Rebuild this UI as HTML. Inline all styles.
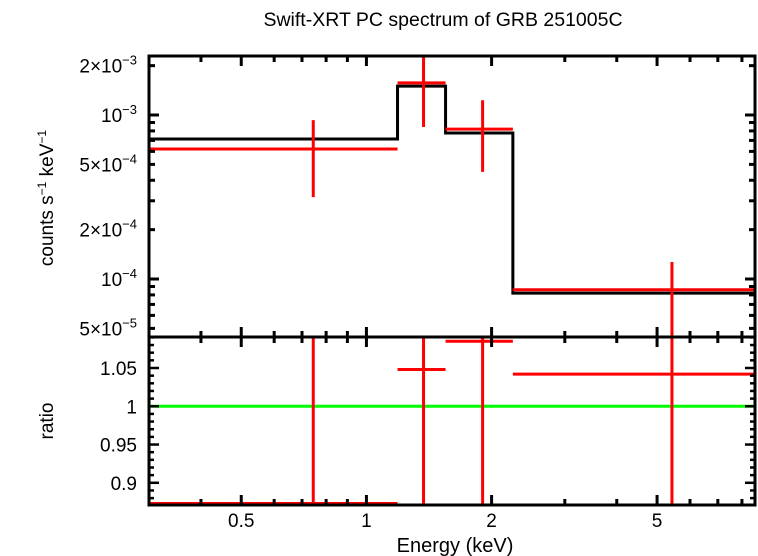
<!DOCTYPE html>
<html><head><meta charset="utf-8"><style>
html,body{margin:0;padding:0;background:#fff;}
svg{display:block;font-family:"Liberation Sans",sans-serif;}
</style></head><body>
<svg id="chart" width="758" height="556" viewBox="0 0 758 556" xmlns="http://www.w3.org/2000/svg">
<text x="443" y="26" font-size="19.5" text-anchor="middle">Swift-XRT PC spectrum of GRB 251005C</text>
<text transform="translate(53,198) rotate(-90)" font-size="19" text-anchor="middle">counts s<tspan dy="-7" font-size="12">−1</tspan><tspan dy="7"> keV</tspan><tspan dy="-7" font-size="12">−1</tspan></text>
<text transform="translate(53,421) rotate(-90)" font-size="19" text-anchor="middle">ratio</text>
<text x="455" y="552" font-size="20" text-anchor="middle">Energy (keV)</text>
<g id="g"></g>
</svg>
<script>
// data
const binLo = [0.3, 1.188, 1.55, 2.25];
const binHi = [1.188, 1.55, 2.25, 8.6];
const binCenter = [0.745, 1.372, 1.903, 5.43];
const dataFlux = [6.2e-4, 1.57e-3, 8.2e-4, 8.6e-5];
const fluxErrHi = [9.3e-4, 3.0e-3, 1.23e-3, 1.27e-4];
const fluxErrLo = [3.16e-4, 8.45e-4, 4.5e-4, 2.0e-5];
const modelFlux = [7.14e-4, 1.5e-3, 7.77e-4, 8.2e-5];
const ratioVal = [0.873, 1.048, 1.085, 1.042];
const ratioErrHi = [1.3, 1.3, 1.3, 1.3];
const ratioErrLo = [0.5, 0.5, 0.5, 0.5];
const xTickLabels = [0.5, 1, 2, 5];
const yTopTickVals = [5e-5, 1e-4, 2e-4, 5e-4, 1e-3, 2e-3];
const yTopTickLabels = ["5×10", "10", "2×10", "5×10", "10", "2×10"];
const yTopTickExp = ["−5", "−4", "−4", "−4", "−3", "−3"];
const yBotTicks = [0.9, 0.95, 1, 1.05];
const yBotTickLabels = ["0.9", "0.95", "1", "1.05"];

const L=149, R=755, T=56, M=337, B=505;
const xMin=0.3, xMax=8.6;
function X(e){return L+(Math.log10(e)-Math.log10(xMin))/(Math.log10(xMax)-Math.log10(xMin))*(R-L);}
const yTopMin=4.43e-5, yTopMax=2.29e-3;
function YT(v){return M-(Math.log10(v)-Math.log10(yTopMin))/(Math.log10(yTopMax)-Math.log10(yTopMin))*(M-T);}
const rMin=0.871, rMax=1.0905;
function YB(v){return B-(v-rMin)/(rMax-rMin)*(B-M);}
const clampT=v=>Math.max(T,Math.min(M,v)), clampB=v=>Math.max(M,Math.min(B,v));

const g=document.getElementById('g'), NS='http://www.w3.org/2000/svg';
function line(x1,y1,x2,y2,c,w,name){const l=document.createElementNS(NS,'line');
l.setAttribute('x1',x1);l.setAttribute('y1',y1);l.setAttribute('x2',x2);l.setAttribute('y2',y2);
l.setAttribute('stroke',c);l.setAttribute('stroke-width',w);


g.appendChild(l);return l;}
function text(x,y,s,anchor,name,exp){const t=document.createElementNS(NS,'text');
t.setAttribute('x',x);t.setAttribute('y',y);t.setAttribute('font-size','19');t.setAttribute('text-anchor',anchor);
t.textContent=s;
if(exp){const sp=document.createElementNS(NS,'tspan');sp.setAttribute('dy','-8');sp.setAttribute('font-size','13');sp.textContent=exp;t.appendChild(sp);}


g.appendChild(t);}

// green ratio line
line(L,YB(1),R,YB(1),'#00ff00',3,'unity-line');

// model step
let d='';
for(let i=0;i<binLo.length;i++){const y=YT(modelFlux[i]);d+=(i?'L':'M')+X(binLo[i])+','+y+'L'+X(binHi[i])+','+y;}
const p=document.createElementNS(NS,'path');p.setAttribute('d',d);p.setAttribute('fill','none');p.setAttribute('stroke','#000');p.setAttribute('stroke-width','3');


g.appendChild(p);

// data crosses
for(let i=0;i<binLo.length;i++){
 line(X(binLo[i]),YT(dataFlux[i]),X(binHi[i]),YT(dataFlux[i]),'#ff0000',3,'data-bin-'+i);
 line(X(binCenter[i]),clampT(YT(fluxErrHi[i])),X(binCenter[i]),clampT(YT(fluxErrLo[i])),'#ff0000',3,'data-err-'+i);
 line(X(binLo[i]),YB(ratioVal[i]),X(binHi[i]),YB(ratioVal[i]),'#ff0000',3,'ratio-bin-'+i);
 line(X(binCenter[i]),clampB(YB(ratioErrHi[i])),X(binCenter[i]),clampB(YB(ratioErrLo[i])),'#ff0000',3,'ratio-err-'+i);
}

// x ticks
const minors=[0.3,0.4,0.5,0.6,0.7,0.8,0.9,1,2,3,4,5,6,7,8];
minors.forEach(e=>{const x=X(e);const big=xTickLabels.includes(e);const l=big?10:6;
 line(x,T,x,T+l,'#000',3,'x-tick');line(x,M-l,x,M+l,'#000',3,'x-tick');line(x,B-l,x,B,'#000',3,'x-tick');});
xTickLabels.forEach(e=>text(X(e),527,String(e),'middle','x-tick-label'));

// top y ticks
for(let dec=-5;dec<=-3;dec++)for(let k=1;k<=9;k++){const v=k*Math.pow(10,dec);if(v<yTopMin||v>yTopMax)continue;
 const y=YT(v);const l=k===1?10:6;line(L,y,L+l,y,'#000',3,'y-tick');line(R-l,y,R,y,'#000',3,'y-tick');}
yTopTickVals.forEach((v,i)=>text(137,YT(v)+7,yTopTickLabels[i],'end','y-tick-label',yTopTickExp[i]));

// bottom y ticks
for(let k=88;k<=109;k++){const v=k/100;const y=YB(v);const big=k%5===0;const l=big?10:5;
 line(L,y,L+l,y,'#000',2.5,'ratio-tick');line(R-l,y,R,y,'#000',2.5,'ratio-tick');}
yBotTicks.forEach((v,i)=>text(137,YB(v)+7,yBotTickLabels[i],'end','ratio-tick-label'));

// frames
const f=document.createElementNS(NS,'path');
f.setAttribute('d',`M${L},${T}H${R}V${B}H${L}Z M${L},${M}H${R}`);
f.setAttribute('fill','none');f.setAttribute('stroke','#000');f.setAttribute('stroke-width','3');


g.appendChild(f);
</script>
</body></html>
